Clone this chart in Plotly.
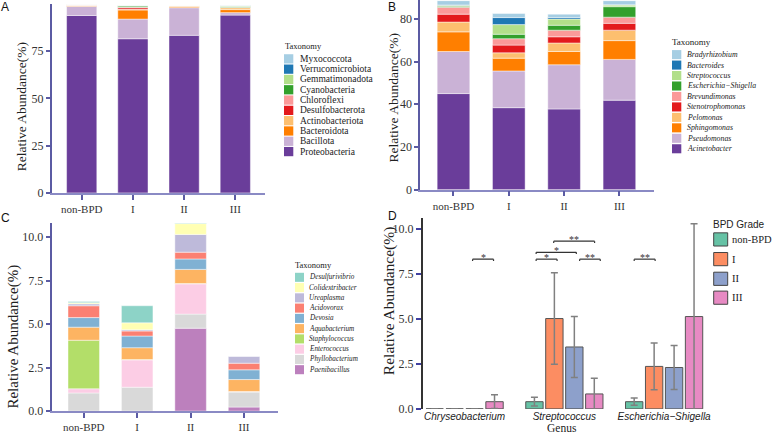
import plotly.graph_objects as go

W, H = 774, 440
SERIF = "Liberation Serif"
SANS = "Liberation Sans"

groups = ["non-BPD", "I", "II", "III"]

# ---------------- Panel A : phylum level (stack order bottom -> top) ----------------
phylum_names = ["Proteobacteria", "Bacillota", "Bacteroidota", "Actinobacteriota",
                "Desulfobacterota", "Chloroflexi", "Cyanobacteria", "Gemmatimonadota",
                "Verrucomicrobiota", "Myxococcota"]
proteobacteria = [93.8, 81.5, 83.3, 94.0]
bacillota = [4.8, 10.4, 14.6, 1.3]
bacteroidota = [0.3, 4.8, 0.5, 1.6]
actinobacteriota = [0.4, 0.4, 0.5, 1.0]
desulfobacterota = [0.05, 0.8, 0.05, 0.1]
chloroflexi = [0.05, 0.3, 0.05, 0.1]
cyanobacteria = [0.05, 0.6, 0.05, 0.4]
gemmatimonadota = [0.05, 0.2, 0.05, 0.4]
verrucomicrobiota = [0.02, 0.05, 0.02, 0.1]
myxococcota = [0.02, 0.1, 0.02, 0.1]
phylum_values = [proteobacteria, bacillota, bacteroidota, actinobacteriota,
                 desulfobacterota, chloroflexi, cyanobacteria, gemmatimonadota,
                 verrucomicrobiota, myxococcota]

# ---------------- Panel B : top genera ----------------
genusB_names = ["Acinetobacter", "Pseudomonas", "Sphingomonas", "Pelomonas",
                "Stenotrophomonas", "Brevundimonas", "Escherichia\u2212Shigella",
                "Streptococcus", "Bacteroides", "Bradyrhizobium"]
acinetobacter = [45.0, 38.4, 37.8, 41.9]
pseudomonas = [19.7, 17.2, 20.7, 19.1]
sphingomonas = [9.2, 6.0, 6.2, 8.8]
pelomonas = [4.6, 2.5, 4.0, 4.9]
stenotrophomonas = [3.7, 3.6, 2.9, 3.2]
brevundimonas = [3.2, 3.0, 3.1, 2.9]
escherichia_shigella = [0.5, 2.1, 2.3, 4.9]
streptococcus = [0.5, 4.5, 2.9, 0.8]
bacteroides = [0.1, 3.3, 0.7, 0.1]
bradyrhizobium = [2.0, 1.9, 1.6, 1.9]
genusB_values = [acinetobacter, pseudomonas, sphingomonas, pelomonas, stenotrophomonas,
                 brevundimonas, escherichia_shigella, streptococcus, bacteroides, bradyrhizobium]

# ---------------- Panel C : low-abundance genera ----------------
genusC_names = ["Paenibacillus", "Phyllobacterium", "Enterococcus", "Staphylococcus",
                "Aquabacterium", "Devosia", "Acidovorax", "Ureaplasma",
                "Colidextribacter", "Desulfurivibrio"]
paenibacillus = [0.0, 0.0, 4.76, 0.23]
phyllobacterium = [1.04, 1.37, 0.81, 0.86]
enterococcus = [0.24, 1.57, 1.74, 0.03]
staphylococcus = [2.79, 0.02, 0.02, 0.0]
aquabacterium = [0.75, 0.68, 0.81, 0.69]
devosia = [0.55, 0.67, 0.60, 0.56]
acidovorax = [0.68, 0.29, 0.39, 0.38]
ureaplasma = [0.11, 0.07, 1.02, 0.41]
colidextribacter = [0.07, 0.40, 0.62, 0.0]
desulfurivibrio = [0.06, 0.98, 0.04, 0.0]
genusC_values = [paenibacillus, phyllobacterium, enterococcus, staphylococcus, aquabacterium,
                 devosia, acidovorax, ureaplasma, colidextribacter, desulfurivibrio]

# ---------------- Panel D : differential genera (mean, sd) ----------------
genusD = ["Chryseobacterium", "Streptococcus", "Escherichia\u2212Shigella"]
grade_names = ["non-BPD", "I", "II", "III"]
d_nonbpd = [0.0, 0.40, 0.40]
d_nonbpd_err = [0.0, 0.24, 0.20]
d_grade1 = [0.0, 5.02, 2.36]
d_grade1_err = [0.0, 2.54, 1.30]
d_grade2 = [0.0, 3.44, 2.30]
d_grade2_err = [0.0, 1.69, 1.22]
d_grade3 = [0.40, 0.83, 5.13]
d_grade3_err = [0.38, 0.87, 5.16]
d_means = [d_nonbpd, d_grade1, d_grade2, d_grade3]
d_errs = [d_nonbpd_err, d_grade1_err, d_grade2_err, d_grade3_err]

# significance brackets (category-index x positions, y in %)
sig_x0 = [0.08, 0.717, 0.717, 0.893, 1.153, 1.70]
sig_x1 = [0.29, 0.927, 1.12, 1.303, 1.36, 1.91]
sig_y = [8.32, 8.32, 8.70, 9.32, 8.32, 8.32]
sig_label = ["*", "*", "*", "**", "**", "**"]

# ---------------- colours ----------------
paired = ["#6A3D9A", "#CAB2D6", "#FF7F00", "#FDBF6F", "#E31A1C",
          "#FB9A99", "#33A02C", "#B2DF8A", "#1F78B4", "#A6CEE3"]
set3 = ["#BC80BD", "#D9D9D9", "#FCCDE5", "#B3DE69", "#FDB462",
        "#80B1D3", "#FB8072", "#BEBADA", "#FFFFB3", "#8DD3C7"]
grade_colors = ["#66C2A5", "#FC8D62", "#8DA0CB", "#E78AC3"]

AX_Y = "#5B5BA3"
AX_X = "#8A8AC4"

fig = go.Figure()


def add_stack(names, values, colors, xa, ya, width):
    base = [0.0] * len(groups)
    for name, vals, col in zip(names, values, colors):
        fig.add_trace(go.Bar(
            x=groups, y=vals, base=list(base), name=name,
            marker=dict(color=col, line=dict(color="rgba(255,255,255,0.75)", width=0.6)),
            width=width, offsetgroup="stk" + xa, xaxis=xa, yaxis=ya, showlegend=False))
        base = [b + v for b, v in zip(base, vals)]


add_stack(phylum_names, phylum_values, paired, "x", "y", 0.59)
add_stack(genusB_names, genusB_values, paired, "x2", "y2", 0.59)
add_stack(genusC_names, genusC_values, set3, "x3", "y3", 0.59)

for gname, means, errs, col in zip(grade_names, d_means, d_errs, grade_colors):
    fig.add_trace(go.Bar(
        x=genusD, y=means, name=gname, xaxis="x4", yaxis="y4", showlegend=False,
        marker=dict(color=col, line=dict(color="#555555", width=1)),
        error_y=dict(type="data", array=errs, color="#808080", thickness=1.5, width=3.5)))


def dom_x(a, b):
    return [a / W, b / W]


def dom_y(top, bottom):
    return [1 - bottom / H, 1 - top / H]


def xcat(domain, rng, anchor):
    return dict(domain=domain, range=rng, anchor=anchor, type="category",
                categoryorder="array", categoryarray=groups,
                showline=True, linecolor=AX_X, linewidth=1.5,
                ticks="outside", ticklen=5, tickwidth=1.5, tickcolor=AX_Y,
                tickfont=dict(family=SERIF, size=11, color="#333333"),
                showgrid=False, zeroline=False, fixedrange=True)


def ylin(domain, rng, anchor, tickvals, ticktext):
    return dict(domain=domain, range=rng, anchor=anchor,
                showline=True, linecolor=AX_Y, linewidth=2,
                ticks="outside", ticklen=4, tickwidth=1.5, tickcolor=AX_Y,
                tickvals=tickvals, ticktext=ticktext,
                tickfont=dict(family=SERIF, size=12, color="#333333"),
                showgrid=False, zeroline=False, fixedrange=True)


D_TOP, D_BOT = 222.0, 415.5
D_RANGE_TOP = 10.58

layout = dict(
    width=W, height=H, margin=dict(l=0, r=0, t=0, b=0),
    paper_bgcolor="white", plot_bgcolor="white",
    barmode="group", bargap=0.2, bargroupgap=0.13,
    showlegend=False,
    xaxis=xcat(dom_x(52, 265), [-0.58, 3.58], "y"),
    yaxis=ylin(dom_y(4, 196), [0, 99.9], "x", [0, 25, 50, 75], ["0", "25", "50", "75"]),
    xaxis2=xcat(dom_x(420.3, 653.7), [-0.6, 3.62], "y2"),
    yaxis2=ylin(dom_y(0.5, 192.7), [0, 88.6], "x2", [0, 20, 40, 60, 80],
                ["0", "20", "40", "60", "80"]),
    xaxis3=xcat(dom_x(51.7, 277.7), [-0.6, 3.63], "y3"),
    yaxis3=ylin(dom_y(226.7, 417.7), [0, 10.8], "x3", [0, 2.5, 5, 7.5, 10],
                ["0.0", "2.5", "5.0", "7.5", "10.0"]),
    xaxis4=dict(domain=dom_x(422.7, 714), range=[-0.42, 2.5], anchor="y4", type="category",
                categoryorder="array", categoryarray=genusD, showline=False, ticks="",
                tickfont=dict(family=SANS, size=10, color="#222222", style="italic"),
                showgrid=False, zeroline=False, fixedrange=True),
    yaxis4=dict(domain=dom_y(D_TOP, D_BOT), range=[0, D_RANGE_TOP], anchor="x4",
                showline=True, linecolor="#333333", linewidth=1.5,
                ticks="outside", ticklen=5, tickwidth=1.5, tickcolor="#4040A0",
                tickvals=[0, 2.5, 5, 7.5, 10], ticktext=["0.0", "2.5", "5.0", "7.5", "10.0"],
                tickfont=dict(family=SERIF, size=12, color="#333333"),
                showgrid=False, zeroline=False, fixedrange=True),
)

annotations = []
shapes = []


def ann(text, x, y, size, family=SERIF, color="#222222", xanchor="left",
        yanchor="middle", style="normal", angle=0, weight="normal"):
    annotations.append(dict(text=text, x=x / W, y=1 - y / H, xref="paper", yref="paper",
                            showarrow=False, xanchor=xanchor, yanchor=yanchor,
                            textangle=angle, borderpad=0,
                            font=dict(family=family, size=size, color=color,
                                      style=style, weight=weight)))


def rect(x0, y0, x1, y1, color, lc=None, lw=0):
    shapes.append(dict(type="rect", xref="paper", yref="paper",
                       x0=x0 / W, x1=x1 / W, y0=1 - y1 / H, y1=1 - y0 / H,
                       fillcolor=color, line=dict(width=lw, color=lc or color)))


# panel letters
ann("A", 0, 7, 12, family=SANS, color="#111111")
ann("B", 387, 7.5, 12, family=SANS, color="#111111")
ann("C", 0, 222, 12, family=SANS, color="#111111")
ann("D", 387, 219, 12, family=SANS, color="#111111")

# axis titles
ann("Relative Abundance(%)", 21, 109, 13.5, xanchor="center", angle=-90)
ann("Relative Abundance(%)", 393, 100, 13.5, xanchor="center", angle=-90)
ann("Relative Abundance(%)", 14, 342, 15, xanchor="center", angle=-90)
ann("Relative Abundance(%)", 389, 306, 15.5, xanchor="center", angle=-90)
ann("Genus", 562, 434.5, 11.5, xanchor="center")

# legend A
ann("Taxonomy", 284, 46.7, 8.5)
for i, (name, col) in enumerate(zip(phylum_names[::-1], paired[::-1])):
    cy = 59.8 + i * 10.47
    rect(284, cy - 4.7, 293.3, cy + 4.7, col)
    ann(name, 299, cy, 9.5)

# legend B
ann("Taxonomy", 671, 42.7, 9)
for i, (name, col) in enumerate(zip(genusB_names[::-1], paired[::-1])):
    cy = 55.5 + i * 10.63
    rect(672, cy - 4.6, 681.3, cy + 4.6, col)
    ann(name, 686, cy, 7.8, style="italic")

# legend C
ann("Taxonomy", 294.3, 269.3, 8.5)
for i, (name, col) in enumerate(zip(genusC_names[::-1], set3[::-1])):
    cy = 281.8 + i * 10.43
    rect(295, cy - 4.6, 304, cy + 4.6, col)
    ann(name, 308.3, cy, 7.2, style="italic")

# legend D
ann("BPD Grade", 712, 228.3, 10, family=SANS)
for cy, name, col in zip([243.3, 263.3, 283.3, 302.5], grade_names, grade_colors):
    rect(713.7, cy - 6.7, 727.7, cy + 6.7, col, lc="#444444", lw=1)
    ann(name, 731.3, cy, 10.5)

# significance brackets in panel D
for x0, x1, y, lab in zip(sig_x0, sig_x1, sig_y, sig_label):
    for seg in [(x0, y, x1, y), (x0, y, x0, y - 0.1), (x1, y, x1, y - 0.1)]:
        shapes.append(dict(type="line", xref="x4", yref="y4",
                           x0=seg[0], y0=seg[1], x1=seg[2], y1=seg[3],
                           line=dict(color="#333333", width=1.2)))
    annotations.append(dict(text=lab, x=(x0 + x1) / 2, y=y, xref="x4", yref="y4",
                            showarrow=False, xanchor="center", yanchor="middle",
                            yshift=2, borderpad=0,
                            font=dict(family=SERIF, size=10, color="#333333")))

layout["annotations"] = annotations
layout["shapes"] = shapes
fig.update_layout(**layout)
fig.write_html("out.html")
